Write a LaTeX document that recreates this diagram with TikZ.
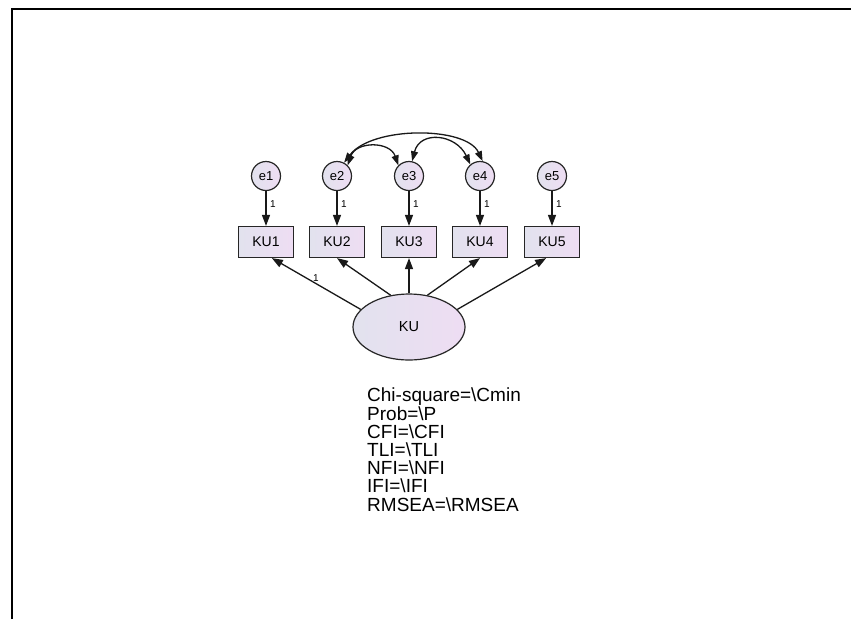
\documentclass[tikz,border=0pt]{standalone}
\usepackage{fontspec}
\setmainfont{Liberation Sans}
\usetikzlibrary{shapes.geometric,arrows.meta}
\definecolor{lavL}{HTML}{E2E2EE}
\definecolor{lavR}{HTML}{EEDDF3}
\begin{document}
\begin{tikzpicture}[x=1pt,y=-1pt,
  errnode/.style={circle,draw=black!85,line width=1.2pt,minimum size=29pt,inner sep=0pt,left color=lavL,right color=lavR,font=\fontsize{13}{13}\selectfont},
  obsnode/.style={rectangle,draw=black!85,line width=1.2pt,minimum width=55pt,minimum height=31pt,inner sep=0pt,left color=lavL,right color=lavR,font=\fontsize{14}{14}\selectfont},
  latnode/.style={ellipse,draw=black!85,line width=1.2pt,minimum width=112pt,minimum height=66pt,inner sep=0pt,left color=lavL,right color=lavR,font=\fontsize{14.5}{14.5}\selectfont},
  path/.style={draw=black!90,line width=1.3pt,-{Triangle[length=11pt,width=8pt]}},
  cov/.style={draw=black!90,line width=1.3pt,{Triangle[length=10pt,width=7pt]}-{Triangle[length=10pt,width=7pt]}},
  wlab/.style={font=\fontsize{10}{10}\selectfont,inner sep=0pt}]
\useasboundingbox (0,0) rectangle (851,619);
\fill[white] (0,0) rectangle (851,619);
\draw[line width=2.2pt] (12,619) -- (12,9) -- (851,9);

\foreach \i/\x in {1/266,2/337,3/409,4/480,5/552}{
  \node[errnode] (e\i) at (\x,176) {e\i};
  \node[obsnode] (KU\i) at (\x,242) {KU\i};
  \draw[path] (e\i) -- (KU\i);
  \node[wlab] (w\i) at (\x+7,204) {1};
}
\node[latnode] (KU) at (409,327) {KU};
\draw[path] (KU.160) -- (KU1.-70);
\draw[path] (KU.120) -- (KU2.south);
\draw[path] (KU.north) -- (KU3.south);
\draw[path] (KU.60) -- (KU4.south);
\draw[path] (KU.20) -- (KU5.-110);
\node[wlab] (l1) at (316,278) {1};

\draw[cov] (e2.45) .. controls (356,141) and (390,141) .. (e3.135);
\draw[cov] (e2.62) .. controls (372,126) and (466,126) .. (e4.80);
\draw[cov] (e3.78) .. controls (420,130) and (456,134) .. (e4.130);

\node[anchor=north west,align=left,inner sep=0pt,font=\fontsize{19}{18.2}\selectfont] (fit) at (367,388)
 {Chi-square=\textbackslash Cmin\\Prob=\textbackslash P\\CFI=\textbackslash CFI\\TLI=\textbackslash TLI\\NFI=\textbackslash NFI\\IFI=\textbackslash IFI\\RMSEA=\textbackslash RMSEA};
\end{tikzpicture}
\end{document}
